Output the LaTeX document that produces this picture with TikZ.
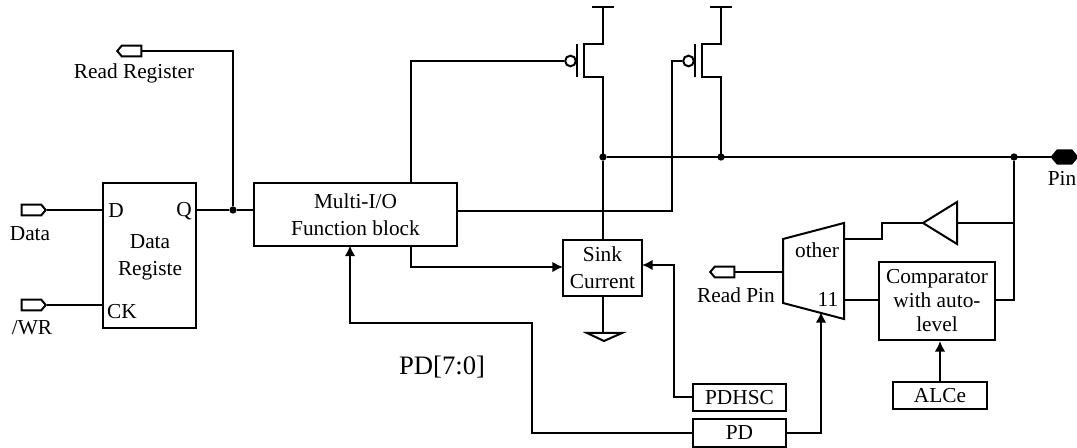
\documentclass[tikz,border=0pt]{standalone}
\usepackage{fontspec}
\setmainfont{Liberation Serif}
\usetikzlibrary{arrows.meta,shapes.symbols}

\tikzset{
wire/.style={line width=1.5pt,line join=miter},
arrowwire/.style={wire,-{Latex[length=8pt,width=8pt]}},
block/.style={shape=rectangle,draw,line width=1.5pt,align=center,inner sep=0pt},
label/.style={inner sep=0pt,align=center},
port/.style={shape=signal,draw,line width=1.5pt,inner sep=0pt,minimum width=18pt,minimum height=8pt,signal pointer angle=100},
dot/.style={shape=circle,fill=black,inner sep=0pt,minimum size=5.5pt},
bubble/.style={shape=circle,draw,fill=white,line width=1.5pt,inner sep=0pt,minimum size=8pt}
}

\begin{document}
\begin{tikzpicture}
[x=0.75pt,y=-0.75pt,
every node/.style={font=\fontsize{16}{18}\selectfont}]
\useasboundingbox (0,0) rectangle (1077,448);

% blocks
\node[block,minimum width=69.75pt,minimum height=108.75pt] (reg) at (149.5,255.5) {};
\node[block,minimum width=152.25pt,minimum height=47.25pt] (mio) at (355.5,214.5) {Multi-I/O\\[2pt]Function block};
\node[block,minimum width=59.25pt,minimum height=42pt] (sink) at (602.5,268) {Sink\\[2pt]Current};
\node[block,minimum width=87pt,minimum height=58.5pt] (comp) at (937,301) {Comparator\\with auto-\\level};
\node[block,minimum width=69.75pt,minimum height=20.25pt] (pdhsc) at (739.5,397.5) {PDHSC};
\node[block,minimum width=69.75pt,minimum height=21pt] (pd) at (739.5,433) {PD};
\node[block,minimum width=70.5pt,minimum height=20.25pt] (alce) at (940,395.5) {ALCe};

% register texts
\node[label] (regd) at (116,211) {D};
\node[label] (regq) at (184,211) {Q};
\node[label] (regck) at (122,312) {CK};
\node[label] (regname) at (150,257) {Data\\[2pt]Registe};

% ports
\node[port,signal to=west] (readreg) at (131.5,51) {};
\node[port,signal to=east] (data) at (31.5,210) {};
\node[port,signal to=east] (wr) at (31.5,305) {};
\node[port,signal to=west] (readpin) at (724.5,272) {};
\node[port,signal to=east and west,fill=black,minimum width=19pt,minimum height=10pt] (pin) at (1064.5,157) {};
\node[label] (readreglabel) at (134,73) {Read Register};
\node[label] (datalabel) at (30,234) {Data};
\node[label] (wrlabel) at (32,328) {/WR};
\node[label] (readpinlabel) at (736,295) {Read Pin};
\node[label] (pinlabel) at (1062,178) {Pin};
\node[label,font=\fontsize{20}{22}\selectfont] (buslabel) at (442,367) {PD[7:0]};

% mux and buffer
\coordinate (muxa) at (783,239);
\coordinate (muxb) at (844,223);
\coordinate (muxc) at (844,319);
\coordinate (muxd) at (783,303);
\draw[wire] (muxa) -- (muxb) -- (muxc) -- (muxd) -- cycle;
\node[label] (other) at (817,250) {other};
\node[label] (eleven) at (828,299) {11};
\coordinate (buftip) at (923,223);
\coordinate (bufin) at (957,223);
\draw[wire] (buftip) -- (957,202) -- (957,244) -- cycle;

% transistors
\foreach \t/\xx in {tra/603,trb/721}{
\node[bubble] (\t bub) at (\xx-32.5,61) {};
\draw[wire] (\xx-26.5,44) -- (\xx-26.5,77);
\draw[wire] (\xx-11,7) -- (\xx+11,7);
\draw[wire] (\xx,7) -- (\xx,44.5) -- (\xx-19,44.5) -- (\xx-19,77) -- (\xx,77) -- (\xx,157);
}

% junctions
\node[dot] (dotq) at (233,210) {};
\node[dot] (dota) at (603,157) {};
\node[dot] (dotb) at (721,157) {};
\node[dot] (dotpin) at (1014,157) {};

% helper points
\coordinate (regd1) at (103,210);
\coordinate (regq1) at (196,210);
\coordinate (regck1) at (103,305);
\coordinate (mioin) at (254,210);
\coordinate (miotop) at (411,183);
\coordinate (miobot) at (411,245.5);
\coordinate (mioright) at (457,211);
\coordinate (miopd) at (350,245.5);
\coordinate (trbkink) at (672,61);
\coordinate (sinkin) at (563,267);
\coordinate (sinkpd) at (642,265);
\coordinate (gnd) at (603,333);
\coordinate (muxread) at (783,272);
\coordinate (muxother) at (844,239);
\coordinate (mux11) at (844,300);
\coordinate (muxpd) at (821,312);
\coordinate (compout) at (995,300);

% connectors
\draw[wire] (data.east) -- (regd1);
\draw[wire] (wr.east) -- (regck1);
\draw[wire] (regq1) -- (dotq) -- (mioin);
\draw[wire] (dotq) |- (readreg.east);
\draw[wire] (miotop) |- (trabub.west);
\draw[wire] (mioright) -| (trbkink) -- (trbbub.west);
\draw[wire] (dota) -- (dota |- sink.north);
\draw[wire] (dota) -- (pin.west);
\draw[arrowwire] (miobot) |- (sinkin);
\draw[arrowwire] (pdhsc.west) -| (674,265) -- (sinkpd);
\draw[arrowwire] (pd.west) -| (532,323) -| (miopd);
\draw[arrowwire] (pd.east) -| (muxpd);
\draw[arrowwire] (alce.north) -- (alce.north |- comp.south);
\draw[wire] (gnd |- sink.south) -- (gnd);
\draw[wire] (587,333) -- (622,333) -- (604,341) -- cycle;
\draw[wire] (readpin.east) -- (muxread);
\draw[wire] (muxother) -- (882,239) -- (882,223) -- (buftip);
\draw[wire] (mux11) -- (comp.west |- mux11);
\draw[wire] (compout) -| (dotpin);
\draw[wire] (bufin) -- (1014,223);
\end{tikzpicture}
\end{document}
